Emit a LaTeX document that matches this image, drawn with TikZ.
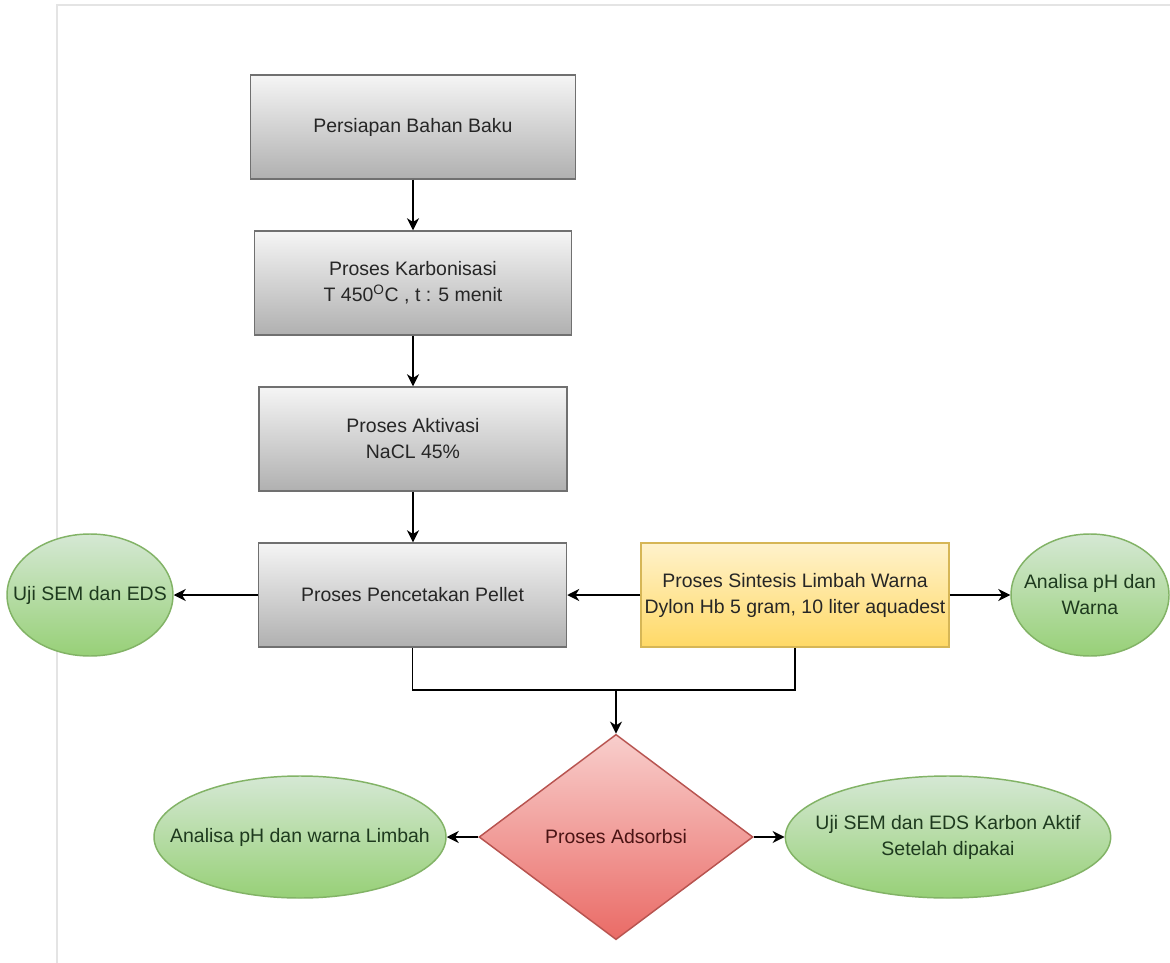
\documentclass[tikz,border=0pt]{standalone}
\usepackage{fontspec}
\setmainfont{Liberation Sans}
\usetikzlibrary{shapes.geometric,arrows.meta}
\definecolor{frame}{HTML}{E4E4E4}
\definecolor{grayTop}{HTML}{F5F5F5}
\definecolor{grayBot}{HTML}{B0B0B0}
\definecolor{grayStroke}{HTML}{707070}
\definecolor{yelTop}{HTML}{FFF2CC}
\definecolor{yelBot}{HTML}{FFD966}
\definecolor{yelStroke}{HTML}{D6B656}
\definecolor{grnTop}{HTML}{D5E8D4}
\definecolor{grnBot}{HTML}{97D077}
\definecolor{grnStroke}{HTML}{82B366}
\definecolor{redTop}{HTML}{F8CECC}
\definecolor{redBot}{HTML}{EA6B66}
\definecolor{redStroke}{HTML}{B85450}
\definecolor{txtGray}{HTML}{262626}
\definecolor{txtGreen}{HTML}{1E3A1E}
\definecolor{txtRed}{HTML}{4A1414}
\tikzset{
  every node/.style={font=\fontsize{14.6pt}{19.5pt}\selectfont},
  graybox/.style={rectangle, draw=grayStroke, line width=1.1pt, top color=grayTop, bottom color=grayBot,
    minimum height=78pt, inner sep=0pt, align=center, text=txtGray},
  yelbox/.style={rectangle, draw=yelStroke, line width=1.1pt, top color=yelTop, bottom color=yelBot,
    minimum height=78pt, minimum width=231pt, inner sep=0pt, align=center, text=txtGray},
  grnell/.style={ellipse, draw=grnStroke, line width=1.1pt, top color=grnTop, bottom color=grnBot,
    inner sep=0pt, minimum height=91.5pt},
  redmond/.style={diamond, draw=redStroke, line width=1.1pt, top color=redTop, bottom color=redBot,
    inner sep=0pt, minimum width=205.5pt, minimum height=154pt},
  gtxt/.style={align=center, text=txtGreen, inner sep=0pt},
  rtxt/.style={align=center, text=txtRed, inner sep=0pt},
  conn/.style={line width=1.3pt, black},
  arr/.style={conn, -{Stealth[length=9pt, width=9pt, inset=2.8pt]}}
}
\begin{document}
\begin{tikzpicture}[x=0.75pt, y=-0.75pt]
\useasboundingbox (0,0) rectangle (1170,963);
\fill[white] (0,0) rectangle (1170,963);
% frame
\draw[frame, line width=1.2pt] (57,963) -- (57,5) -- (1170,5);

% boxes
\node[graybox, minimum width=244pt] (b1) at (413,127) {Persiapan Bahan Baku};
\node[graybox, minimum width=238pt] (b2) at (413,283) {Proses Karbonisasi\\T 450\textsuperscript{O}C , t : 5 menit};
\node[graybox, minimum width=231pt] (b3) at (413,439) {Proses Aktivasi\\NaCL 45\%};
\node[graybox, minimum width=231pt] (b4) at (412.5,595) {Proses Pencetakan Pellet};
\node[yelbox] (y1) at (795,595) {Proses Sintesis Limbah Warna\\Dylon Hb 5 gram, 10 liter aquadest};

% ellipses
\node[grnell, minimum width=124.5pt, label={[gtxt]center:Uji SEM dan EDS}] (e1) at (90,595) {};
\node[grnell, minimum width=118.5pt, label={[gtxt]center:Analisa pH dan\\Warna}] (e2) at (1090,595) {};
\node[grnell, minimum width=219pt, label={[gtxt]center:Analisa pH dan warna Limbah}] (e3) at (300,837) {};
\node[grnell, minimum width=244pt, label={[gtxt]center:Uji SEM dan EDS Karbon Aktif\\Setelah dipakai}] (e4) at (948,837) {};

% diamond
\node[redmond, label={[rtxt]center:Proses Adsorbsi}] (d1) at (616,837) {};

% connectors
\draw[arr] (b1.south) -- (b2.north);
\draw[arr] (b2.south) -- (b3.north);
\draw[arr] (b3.south) -- (b3.south |- b4.north);
\draw[arr] (b4.west) -- (e1.east);
\draw[arr] (y1.west) -- (b4.east);
\draw[arr] (y1.east) -- (e2.west);
\coordinate (jl) at (412.5,690);
\coordinate (jr) at (795,690);
\coordinate (jm) at (616,690);
\draw[conn] (b4.south) -- (jl) -- (jr) -- (y1.south);
\draw[arr] (jm) -- (d1.north);
\draw[arr] (d1.west) -- (e3.east);
\draw[arr] (d1.east) -- (e4.west);
\end{tikzpicture}
\end{document}
